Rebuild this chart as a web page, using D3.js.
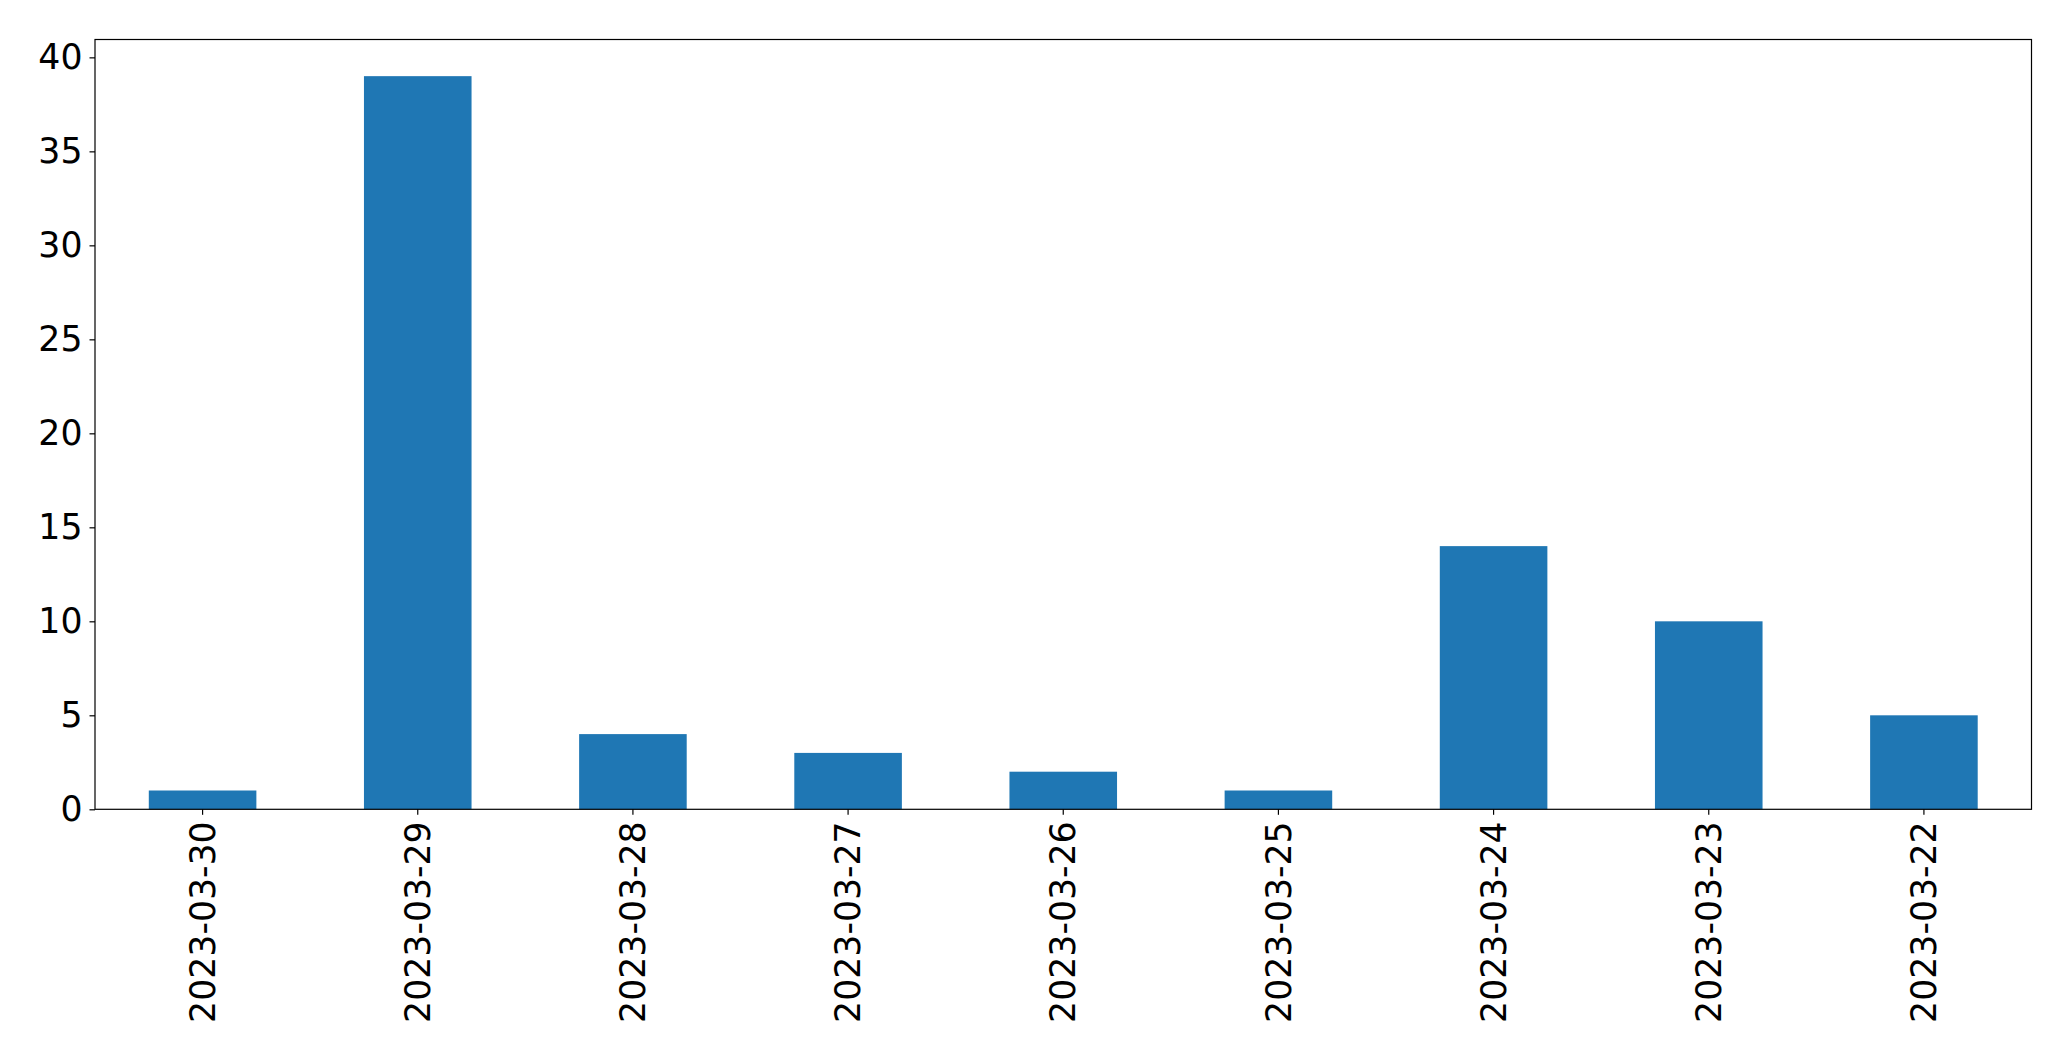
<!DOCTYPE html>
<html><head><meta charset="utf-8">
<script src="https://cdn.jsdelivr.net/npm/d3@7"></script>
<style>
body{margin:0;background:#fff;}
text{font-family:"DejaVu Sans",sans-serif;}
</style></head>
<body><svg id="chart" width="2071" height="1061"></svg>
<script>
const categories = ["2023-03-30","2023-03-29","2023-03-28","2023-03-27","2023-03-26","2023-03-25","2023-03-24","2023-03-23","2023-03-22"];
const values = [1, 39, 4, 3, 2, 1, 14, 10, 5];
const yTicks = [0, 5, 10, 15, 20, 25, 30, 35, 40];

const L = 95, R = 2031.5, T = 39.5, B = 809.3;
const svg = d3.select("#chart");
const x = d3.scaleBand().domain(categories).range([L, R]).paddingInner(0.5).paddingOuter(0.25);
const y = d3.scaleLinear().domain([0, d3.max(values) * 1.05]).range([B, T]);

svg.selectAll("rect.bar").data(values).join("rect")
  .attr("class", "bar")
  .attr("x", (d, i) => x(categories[i]))
  .attr("width", x.bandwidth())
  .attr("y", d => y(d))
  .attr("height", d => B - y(d))
  .attr("fill", "#1f77b4");

const fs = 34.7;
const yAxis = svg.append("g").attr("transform", `translate(${L},0)`)
  .call(d3.axisLeft(y).tickValues(yTicks).tickSize(5.5).tickPadding(7));
yAxis.select(".domain").remove();
yAxis.selectAll("line").attr("stroke", "#000").attr("stroke-width", 1.2);
yAxis.selectAll("text").attr("font-size", fs).attr("fill", "#000")
  .attr("font-family", "DejaVu Sans");

const xAxis = svg.append("g").attr("transform", `translate(0,${B})`)
  .call(d3.axisBottom(x).tickSize(5.5).tickPadding(0));
xAxis.select(".domain").remove();
xAxis.selectAll("line").attr("stroke", "#000").attr("stroke-width", 1.2);
xAxis.selectAll("text").attr("font-size", fs).attr("fill", "#000")
  .attr("font-family", "DejaVu Sans")
  .attr("text-anchor", "end")
  .attr("dy", "0.35em")
  .attr("transform", "translate(0,12) rotate(-90)")
  .attr("x", 0).attr("y", 0);

svg.append("rect").attr("x", L).attr("y", T).attr("width", R - L).attr("height", B - T)
  .attr("fill", "none").attr("stroke", "#000").attr("stroke-width", 1.2);
</script></body></html>
